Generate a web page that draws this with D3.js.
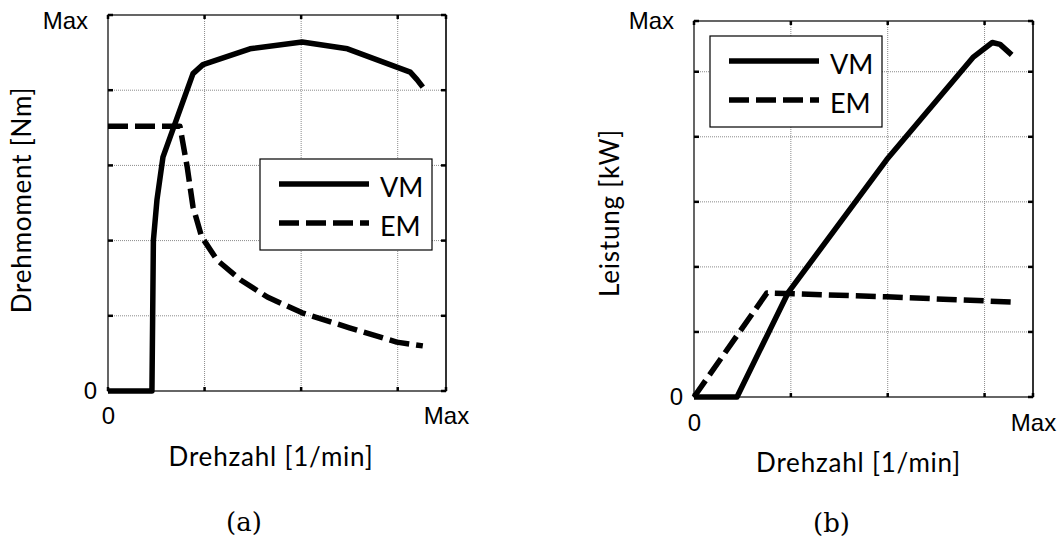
<!DOCTYPE html>
<html>
<head>
<meta charset="utf-8">
<script src="https://cdn.jsdelivr.net/npm/d3@7"></script>
<style>
  body { margin: 0; background: #fff; }
  .num { font-family: "Liberation Sans", Arial, sans-serif; font-size: 24px; }
  .lab { font-family: Lato, "Open Sans", sans-serif; font-size: 26px; letter-spacing: 0.8px; }
  .cap { font-family: "DejaVu Serif", serif; font-size: 26px; }
</style>
</head>
<body>
<svg width="1058" height="542"></svg>
<script>
// speed axis, shared by both panels (0 .. Max)
var speedDomain = [0, 3.5];
var speedGrid = [1, 2, 3];
var speedTicks = [0, 3.5];
var speedTickText = ["0", "Max"];

// (a) torque over speed
var torqueMax = 5;
var torqueGrid = [1, 2, 3, 4];
var torqueVM = [[0, 0], [0.455, 0], [0.47, 2.0], [0.507, 2.54], [0.569, 3.11], [0.88, 4.22], [0.983, 4.34],
  [1.47, 4.55], [2.01, 4.64], [2.48, 4.55], [3.13, 4.24], [3.2, 4.14], [3.26, 4.04]];
var torqueEM = [[0, 3.52], [0.745, 3.52], [0.82, 2.98], [0.88, 2.45], [0.97, 2.05], [1.13, 1.74], [1.37, 1.48],
  [1.65, 1.25], [2.01, 1.04], [2.5, 0.84], [2.99, 0.65], [3.26, 0.6]];

// (b) power over speed
var powerMax = 5.78;
var powerGrid = [1, 2, 3, 4, 5];
var powerVM = [[0, 0], [0.444, 0], [0.97, 1.6], [1.99, 3.65], [2.88, 5.22], [3.08, 5.45], [3.16, 5.42], [3.28, 5.26]];
var powerEM = [[0, 0], [0.753, 1.6], [1.99, 1.54], [3.28, 1.46]];

var seriesNames = ["VM", "EM"];

var svg = d3.select("svg");

function draw_panel(p) {
  var width = p.right - p.left,
      height = p.bottom - p.top;

  var g = svg.append("g")
    .attr("transform", "translate(" + p.left + "," + p.top + ")");

  var x = d3.scaleLinear().domain(speedDomain).range([0, width]);
  var y = d3.scaleLinear().domain([0, p.yMax]).range([height, 0]);

  // dotted grid
  g.selectAll(".vgrid").data(speedGrid).enter().append("line")
    .attr("x1", function(d) { return x(d); }).attr("x2", function(d) { return x(d); })
    .attr("y1", 0).attr("y2", height)
    .attr("stroke", "#8a8a8a").attr("stroke-width", 1).attr("stroke-dasharray", "1,1");
  g.selectAll(".hgrid").data(p.yGrid).enter().append("line")
    .attr("y1", function(d) { return y(d); }).attr("y2", function(d) { return y(d); })
    .attr("x1", 0).attr("x2", width)
    .attr("stroke", "#8a8a8a").attr("stroke-width", 1).attr("stroke-dasharray", "1,1");

  // box
  g.append("rect")
    .attr("width", width).attr("height", height)
    .attr("fill", "none").attr("stroke", "#000").attr("stroke-width", 1.2);
  g.append("line")
    .attr("x1", width).attr("x2", width).attr("y1", 0).attr("y2", height)
    .attr("stroke", "#333").attr("stroke-width", 2);

  // small inward ticks on all four sides
  var xt = [0].concat(speedGrid, [speedDomain[1]]);
  var yt = [0].concat(p.yGrid, [p.yMax]);
  xt.forEach(function(d) {
    g.append("line").attr("x1", x(d)).attr("x2", x(d)).attr("y1", 0).attr("y2", 4)
      .attr("stroke", "#000").attr("stroke-width", 2.5);
    g.append("line").attr("x1", x(d)).attr("x2", x(d)).attr("y1", height).attr("y2", height - 4)
      .attr("stroke", "#000").attr("stroke-width", 2.5);
  });
  yt.forEach(function(d) {
    g.append("line").attr("y1", y(d)).attr("y2", y(d)).attr("x1", 0).attr("x2", 5)
      .attr("stroke", "#000").attr("stroke-width", 2.5);
    g.append("line").attr("y1", y(d)).attr("y2", y(d)).attr("x1", width).attr("x2", width - 5)
      .attr("stroke", "#000").attr("stroke-width", 2.5);
  });

  // tick labels 0 / Max
  var ax = g.append("g")
    .attr("transform", "translate(0," + height + ")")
    .call(d3.axisBottom(x).tickValues(speedTicks).tickSize(0).tickPadding(p.xPad)
      .tickFormat(function(d, i) { return speedTickText[i]; }));
  var ay = g.append("g")
    .call(d3.axisLeft(y).tickValues([0, p.yMax]).tickSize(0).tickPadding(11)
      .tickFormat(function(d) { return d === 0 ? "0" : "Max"; }));
  [ax, ay].forEach(function(a) {
    a.attr("font-size", null).attr("font-family", null);
    a.select(".domain").remove();
    a.selectAll("text").attr("class", "num").attr("fill", "#000");
  });
  ay.selectAll("text").filter(function(d) { return d !== 0; })
    .attr("dx", -9).attr("dy", p.maxDy);

  // curves
  var line = d3.line()
    .x(function(d) { return x(d[0]); })
    .y(function(d) { return y(d[1]); });

  g.append("path").datum(p.vm).attr("d", line)
    .attr("fill", "none").attr("stroke", "#000").attr("stroke-width", 5.5)
    .attr("stroke-linejoin", "round");
  g.append("path").datum(p.em).attr("d", line)
    .attr("fill", "none").attr("stroke", "#000").attr("stroke-width", 5.5)
    .attr("stroke-dasharray", "20,7").attr("stroke-linejoin", "round");

  // axis titles
  g.append("text").attr("class", "lab")
    .attr("x", width / 2 + p.titleDx).attr("y", height + 66)
    .attr("dy", "0.35em").attr("text-anchor", "middle")
    .text("Drehzahl [1/min]");
  g.append("text").attr("class", "lab")
    .attr("transform", "translate(" + p.yTitleX + "," + (height / 2 + p.yTitleDy) + ") rotate(-90)")
    .attr("dy", "0.35em").attr("text-anchor", "middle")
    .text(p.yTitle);

  // panel caption
  g.append("text").attr("class", "cap")
    .attr("x", width / 2 + p.capDx).attr("y", height + p.capY)
    .attr("dy", "0.35em").attr("text-anchor", "middle")
    .text(p.caption);

  // legend
  var lg = svg.append("g")
    .attr("transform", "translate(" + p.legend[0] + "," + p.legend[1] + ")");
  lg.append("rect")
    .attr("width", 172).attr("height", 91)
    .attr("fill", "#fff").attr("stroke", "#000").attr("stroke-width", 1.2);
  seriesNames.forEach(function(name, i) {
    var ly = 25 + i * 39;
    lg.append("line")
      .attr("x1", 19).attr("x2", 109).attr("y1", ly).attr("y2", ly)
      .attr("stroke", "#000").attr("stroke-width", 5.5)
      .attr("stroke-dasharray", i === 0 ? null : "20,7");
    lg.append("text").attr("class", "lab")
      .attr("x", 120).attr("y", ly + 4)
      .attr("dy", "0.35em").style("font-size", "27px").style("letter-spacing", "0px")
      .text(name);
  });
}

draw_panel({
  left: 108, top: 15, right: 446, bottom: 391,
  yMax: torqueMax, yGrid: torqueGrid,
  vm: torqueVM, em: torqueEM,
  yTitle: "Drehmoment [Nm]", yTitleX: -86, yTitleDy: -3,
  titleDx: -6, xPad: 16, maxDy: "0.55em",
  caption: "(a)", capDx: -33, capY: 131,
  legend: [260, 159]
});

draw_panel({
  left: 694, top: 21, right: 1033, bottom: 397,
  yMax: powerMax, yGrid: powerGrid,
  vm: powerVM, em: powerEM,
  yTitle: "Leistung [kW]", yTitleX: -84, yTitleDy: 4,
  titleDx: -5, xPad: 17, maxDy: "0.32em",
  caption: "(b)", capDx: -32, capY: 126,
  legend: [710, 36]
});
</script>
</body>
</html>
